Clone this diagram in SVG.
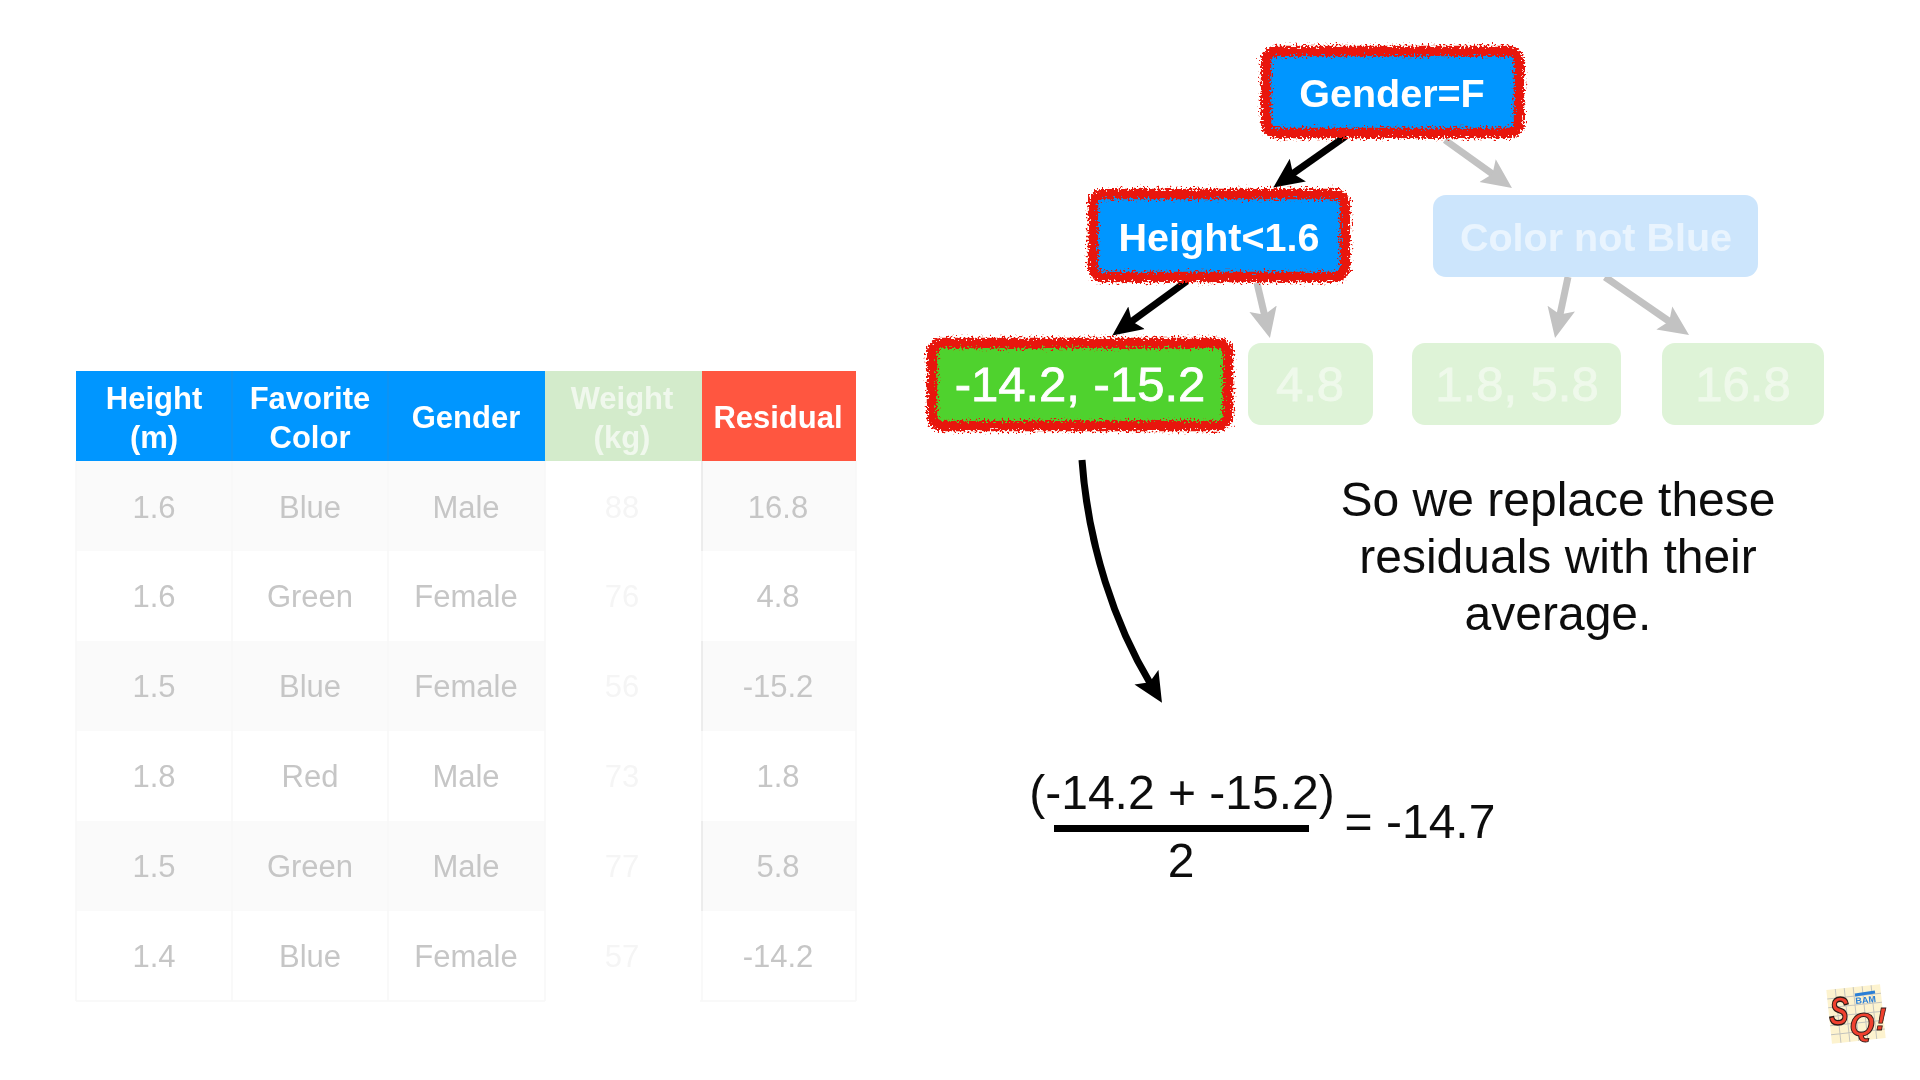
<svg xmlns="http://www.w3.org/2000/svg" width="1920" height="1080" viewBox="0 0 1920 1080">
<style>
text{font-family:"Liberation Sans",Arial,sans-serif;text-anchor:middle}
.th{font-size:31px;font-weight:700;fill:#fff}
.thw{font-size:31px;font-weight:700;fill:#f0f8ed}
.td{font-size:31px;fill:#c6c6c6}
.tdw{font-size:31px;fill:#f5f5f5}
.band{fill:#fafafa}
.vl{stroke:#f8f8f8;stroke-width:1.5}
.vd{stroke:#e8e8e8;stroke-width:1.5}
.nt{font-size:39.5px;font-weight:700;fill:#fff}
.nf{font-size:39.5px;font-weight:700;fill:#e9f4fe}
.lt{font-size:49px;fill:#fff;stroke:#fff;stroke-width:.8}
.lf{font-size:49px;fill:#eff9eb;stroke:#eff9eb;stroke-width:.8}
.lbox{fill:#def3d7}
.hl{fill:none;stroke:#e8190f;stroke-width:10.5;filter:url(#rough)}
.bk{stroke:#000;stroke-width:7;fill:none;marker-end:url(#hb)}
.gr{stroke:#c2c2c2;stroke-width:7;fill:none;marker-end:url(#hg)}
.cap{font-size:48px;fill:#111}
.eq{font-size:48px;fill:#111}
</style>
<defs>
<filter id="rough" x="-15%" y="-30%" width="130%" height="160%">
<feTurbulence type="fractalNoise" baseFrequency="0.5" numOctaves="2" seed="4" result="n"/>
<feDisplacementMap in="SourceGraphic" in2="n" scale="13" xChannelSelector="R" yChannelSelector="G"/>
</filter>
<filter id="soft" x="0" y="0" width="100%" height="100%" filterUnits="userSpaceOnUse"><feGaussianBlur stdDeviation="0.55"/></filter>
<marker id="hb" markerUnits="userSpaceOnUse" markerWidth="32" markerHeight="30" viewBox="0 0 32 30" refX="8" refY="15" orient="auto"><path d="M0,1 L30,15 L0,29 L6,15 Z" fill="#000"/></marker>
<marker id="hg" markerUnits="userSpaceOnUse" markerWidth="32" markerHeight="30" viewBox="0 0 32 30" refX="8" refY="15" orient="auto"><path d="M0,1 L30,15 L0,29 L6,15 Z" fill="#c2c2c2"/></marker>
</defs>
<rect width="1920" height="1080" fill="#fff"/>
<g filter="url(#soft)">
<g id="table">
<rect x="76" y="371" width="469" height="90" fill="#0096ff"/>
<rect x="545" y="371" width="157" height="90" fill="#d3ebcb"/>
<rect x="702" y="371" width="154" height="90" fill="#ff5640"/>
<path d="M232 371V461M388 371V461" stroke="#1a8fe6" stroke-width="1"/>
<rect class="band" x="76" y="461" width="469" height="90"/><rect class="band" x="702" y="461" width="154" height="90"/>
<rect class="band" x="76" y="641" width="469" height="90"/><rect class="band" x="702" y="641" width="154" height="90"/>
<rect class="band" x="76" y="821" width="469" height="90"/><rect class="band" x="702" y="821" width="154" height="90"/>
<path class="vl" d="M76 461V1001M232 461V1001M388 461V1001M545 461V1001M702 731V821M702 551V641M702 911V1001M856 461V1001M76 1001H545M700 1001H856"/>
<path class="vd" d="M702 461V551M702 641V731M702 821V911"/>
<text class="th" x="154" y="409">Height</text><text class="th" x="154" y="448">(m)</text>
<text class="th" x="310" y="409">Favorite</text><text class="th" x="310" y="448">Color</text>
<text class="th" x="466" y="428">Gender</text>
<text class="thw" x="622" y="409">Weight</text><text class="thw" x="622" y="448">(kg)</text>
<text class="th" x="778" y="428">Residual</text>
<g class="r1"><text class="td" x="154" y="518">1.6</text><text class="td" x="310" y="518">Blue</text><text class="td" x="466" y="518">Male</text><text class="tdw" x="622" y="518">88</text><text class="td" x="778" y="518">16.8</text></g>
<g class="r2"><text class="td" x="154" y="607">1.6</text><text class="td" x="310" y="607">Green</text><text class="td" x="466" y="607">Female</text><text class="tdw" x="622" y="607">76</text><text class="td" x="778" y="607">4.8</text></g>
<g class="r3"><text class="td" x="154" y="697">1.5</text><text class="td" x="310" y="697">Blue</text><text class="td" x="466" y="697">Female</text><text class="tdw" x="622" y="697">56</text><text class="td" x="778" y="697">-15.2</text></g>
<g class="r4"><text class="td" x="154" y="787">1.8</text><text class="td" x="310" y="787">Red</text><text class="td" x="466" y="787">Male</text><text class="tdw" x="622" y="787">73</text><text class="td" x="778" y="787">1.8</text></g>
<g class="r5"><text class="td" x="154" y="877">1.5</text><text class="td" x="310" y="877">Green</text><text class="td" x="466" y="877">Male</text><text class="tdw" x="622" y="877">77</text><text class="td" x="778" y="877">5.8</text></g>
<g class="r6"><text class="td" x="154" y="967">1.4</text><text class="td" x="310" y="967">Blue</text><text class="td" x="466" y="967">Female</text><text class="tdw" x="622" y="967">57</text><text class="td" x="778" y="967">-14.2</text></g>
</g>
<g id="connectors">
<line class="bk" x1="1346" y1="136" x2="1291.3" y2="174.7"/>
<line class="gr" x1="1445" y1="140" x2="1494.1" y2="175.2"/>
<line class="bk" x1="1187" y1="281" x2="1130.1" y2="322.5"/>
<line class="gr" x1="1257" y1="283" x2="1264.9" y2="316.6"/>
<line class="gr" x1="1568" y1="277" x2="1559.6" y2="316.5"/>
<line class="gr" x1="1605" y1="277" x2="1670.9" y2="322.5"/>
<path class="bk" d="M1082,460 C1088,545 1115,625 1150.6,684"/>
</g>
<g id="node-gender">
<rect x="1266" y="51" width="253" height="82" rx="10" fill="#0096ff"/>
<rect class="hl" x="1266" y="51" width="253" height="82" rx="10"/>
<text class="nt" x="1392" y="107">Gender=F</text>
</g>
<g id="node-height">
<rect x="1093" y="194" width="252" height="83" rx="10" fill="#0096ff"/>
<rect class="hl" x="1093" y="194" width="252" height="83" rx="10"/>
<text class="nt" x="1219" y="251">Height&lt;1.6</text>
</g>
<g id="node-color">
<rect x="1433" y="195" width="325" height="82" rx="13" fill="#cce5fc"/>
<text class="nf" x="1596" y="251">Color not Blue</text>
</g>
<g id="leaf-a">
<rect x="932" y="343" width="296" height="83" rx="10" fill="#50d22d"/>
<rect class="hl" x="932" y="343" width="296" height="83" rx="10"/>
<text class="lt" x="1080" y="401">-14.2, -15.2</text>
</g>
<g id="leaf-b"><rect class="lbox" x="1248" y="343" width="125" height="82" rx="13"/><text class="lf" x="1310" y="401">4.8</text></g>
<g id="leaf-c"><rect class="lbox" x="1412" y="343" width="209" height="82" rx="13"/><text class="lf" x="1517" y="401">1.8, 5.8</text></g>
<g id="leaf-d"><rect class="lbox" x="1662" y="343" width="162" height="82" rx="13"/><text class="lf" x="1743" y="401">16.8</text></g>
<g id="caption">
<text class="cap" x="1558" y="516">So we replace these</text>
<text class="cap" x="1558" y="573">residuals with their</text>
<text class="cap" x="1558" y="630">average.</text>
</g>
<g id="formula">
<text class="eq" x="1182" y="809">(-14.2 + -15.2)</text>
<rect x="1054" y="825" width="255" height="7" fill="#000"/>
<text class="eq" x="1181" y="877">2</text>
<text class="eq" x="1420" y="838">= -14.7</text>
</g>
<g id="logo">
<g transform="rotate(-6 1856 1014)">
<rect x="1829" y="987" width="54" height="54" fill="#fdf3cf"/>
<path d="M1829 996H1883M1829 1005H1883M1829 1014H1883M1829 1023H1883M1829 1032H1883M1838 987V1041M1847 987V1041M1856 987V1041M1865 987V1041M1874 987V1041" stroke="#c4c4be" stroke-width="1"/>
</g>
<path d="M1855 995L1875 992" stroke="#2b7fd6" stroke-width="3" fill="none"/>
<text transform="translate(1839 1025) scale(1 1.4)" font-size="29" font-weight="700" font-style="italic" fill="#f0402f" stroke="#2b1a16" stroke-width="1">S</text>
<text x="1862" y="1035" font-size="32" font-weight="700" font-style="italic" fill="#f0402f" stroke="#2b1a16" stroke-width="1">Q</text>
<text x="1881" y="1030" font-size="32" font-weight="700" font-style="italic" fill="#f0402f" stroke="#2b1a16" stroke-width=".8">!</text>
<text x="1866" y="1003" font-size="9" font-weight="700" fill="#2b7fd6" transform="rotate(-6 1866 1003)">BAM</text>
</g>
</g>
</svg>
